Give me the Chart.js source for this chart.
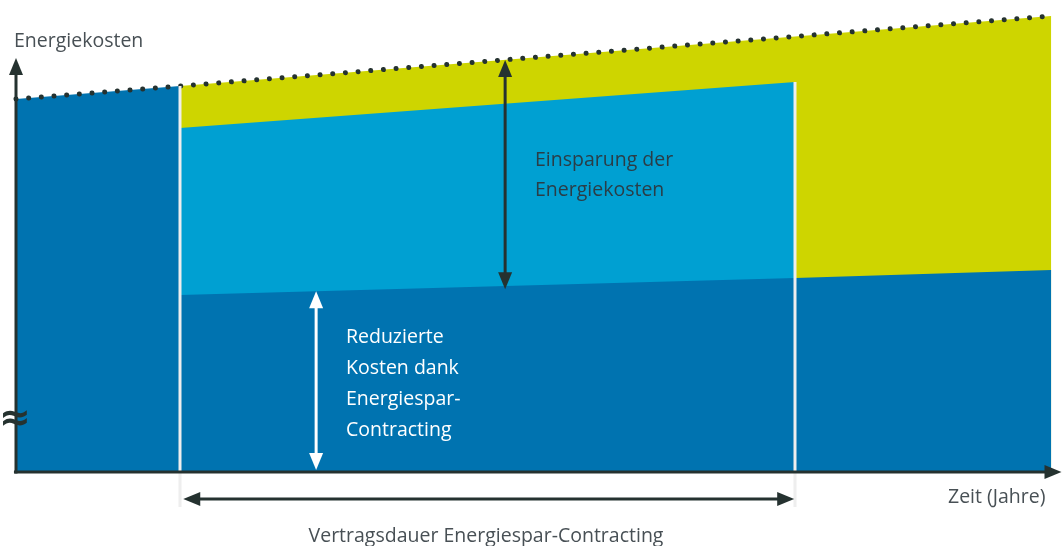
<!DOCTYPE html>
<html>
<head>
<meta charset="utf-8">
<script src="https://cdn.jsdelivr.net/npm/chart.js@4"></script>
<style>
  html, body { margin: 0; padding: 0; background: #fff; }
  #wrap { width: 1062px; height: 546px; position: relative; }
</style>
</head>
<body>
<div id="wrap"><canvas id="costChart"></canvas></div>
<script>
// years on the x axis, energy costs (index) on the y axis
const years = [0, 4, 19, 25.25];
const costsWithout = [93.25, 96.5, 108.9, 114];   // dotted line, costs without contracting
const contractYears = [4, 19];
const costsContract = [86, 97.5];                  // costs during the contract (incl. rate)
const reducedYears = [4, 19, 25.25];
const costsReduced = [44.25, 48.5, 50.5];          // reduced costs thanks to contracting

const COL_DARK = '#0073b0';
const COL_LIGHT = '#00a0d2';
const COL_GREEN = '#ced500';
const COL_AXIS = '#253230';
const COL_TEXT = '#485055';
const FONT = '"Open Sans", "Noto Sans", sans-serif';

const pts = (xs, ys) => xs.map((x, i) => ({ x: x, y: ys[i] }));

// dark area: before contract follows the cost line, afterwards the reduced costs
const darkData = pts(years.slice(0, 2), costsWithout.slice(0, 2))
  .concat(pts(reducedYears, costsReduced));

function arrow(ctx, x1, y1, x2, y2, color, heads) {
  const len = 17, half = 7;
  const ang = Math.atan2(y2 - y1, x2 - x1);
  ctx.save();
  ctx.strokeStyle = color;
  ctx.fillStyle = color;
  ctx.lineWidth = 3;
  const sx = heads.start ? x1 + Math.cos(ang) * (len - 2) : x1;
  const sy = heads.start ? y1 + Math.sin(ang) * (len - 2) : y1;
  const ex = heads.end ? x2 - Math.cos(ang) * (len - 2) : x2;
  const ey = heads.end ? y2 - Math.sin(ang) * (len - 2) : y2;
  ctx.beginPath();
  ctx.moveTo(sx, sy);
  ctx.lineTo(ex, ey);
  ctx.stroke();
  const head = (tx, ty, a) => {
    ctx.beginPath();
    ctx.moveTo(tx, ty);
    ctx.lineTo(tx - Math.cos(a) * len - Math.sin(a) * half, ty - Math.sin(a) * len + Math.cos(a) * half);
    ctx.lineTo(tx - Math.cos(a) * len + Math.sin(a) * half, ty - Math.sin(a) * len - Math.cos(a) * half);
    ctx.closePath();
    ctx.fill();
  };
  if (heads.end) head(x2, y2, ang);
  if (heads.start) head(x1, y1, ang + Math.PI);
  ctx.restore();
}

const decorations = {
  id: 'decorations',
  afterDatasetsDraw(chart) {
    const { ctx } = chart;
    const xs = chart.scales.x, ys = chart.scales.y;
    const X = v => xs.getPixelForValue(v);
    const Y = v => ys.getPixelForValue(v);

    // white separators at contract start / end
    ctx.save();
    ctx.strokeStyle = '#eeeeee';
    ctx.lineWidth = 3;
    ctx.beginPath();
    ctx.moveTo(X(contractYears[0]), Y(costsWithout[1]));
    ctx.lineTo(X(contractYears[0]), Y(-8.75));
    ctx.moveTo(X(contractYears[1]), Y(costsContract[1]));
    ctx.lineTo(X(contractYears[1]), Y(-8.75));
    ctx.stroke();
    ctx.restore();

    // axes
    arrow(ctx, X(0), Y(-0.4), X(0), Y(103.5), COL_AXIS, { end: true });
    arrow(ctx, X(-0.05), Y(0), X(25.5), Y(0), COL_AXIS, { end: true });

    // savings arrow and reduced costs arrow
    arrow(ctx, X(11.93), Y(103), X(11.93), Y(45.7), COL_AXIS, { start: true, end: true });
    arrow(ctx, X(7.32), Y(45.2), X(7.32), Y(0.5), '#ffffff', { start: true, end: true });
    // contract duration
    arrow(ctx, X(4.08), Y(-6.75), X(18.98), Y(-6.75), COL_AXIS, { start: true, end: true });

    ctx.save();
    ctx.textBaseline = 'alphabetic';
    ctx.font = '19.5px ' + FONT;
    ctx.fillStyle = COL_TEXT;
    ctx.textAlign = 'left';
    ctx.fillText('Energiekosten', 14, 47);
    ctx.fillText('Zeit (Jahre)', 948, 503);
    ctx.textAlign = 'center';
    ctx.fillText('Vertragsdauer Energiespar-Contracting', 486, 542);
    ctx.textAlign = 'left';
    ctx.fillStyle = '#2a3d47';
    ctx.fillText('Einsparung der', 535, 166);
    ctx.fillText('Energiekosten', 535, 196);
    ctx.fillStyle = '#ffffff';
    ['Reduzierte', 'Kosten dank', 'Energiespar-', 'Contracting'].forEach((t, i) => {
      ctx.fillText(t, 346, 343 + i * 31);
    });
    // axis break mark
    ctx.fillStyle = COL_AXIS;
    ctx.textAlign = 'center';
    ctx.font = 'bold 38px "DejaVu Sans"';
    ctx.fillText('\u2248', 15, 430);
    ctx.restore();
  }
};

new Chart(document.getElementById('costChart'), {
  type: 'line',
  data: {
    datasets: [
      {
        data: pts(years, costsWithout),
        borderColor: COL_AXIS,
        borderWidth: 5,
        borderDash: [0.01, 12.7],
        borderCapStyle: 'round',
        fill: false
      },
      {
        data: darkData,
        borderWidth: 0,
        backgroundColor: COL_DARK,
        fill: 'origin'
      },
      {
        data: pts(contractYears, costsContract),
        borderWidth: 0,
        backgroundColor: COL_LIGHT,
        fill: 'origin'
      },
      {
        data: pts(years.slice(1), costsWithout.slice(1)),
        borderWidth: 0,
        backgroundColor: COL_GREEN,
        fill: 'origin'
      }
    ]
  },
  options: {
    responsive: true,
    maintainAspectRatio: false,
    animation: false,
    layout: { padding: 0 },
    elements: { point: { radius: 0 }, line: { tension: 0 } },
    plugins: { legend: { display: false }, tooltip: { enabled: false } },
    scales: {
      x: { type: 'linear', display: false, min: -16 / 41, max: 1046 / 41 },
      y: { type: 'linear', display: false, min: -18.5, max: 118 }
    }
  },
  plugins: [decorations]
});
</script>
</body>
</html>
